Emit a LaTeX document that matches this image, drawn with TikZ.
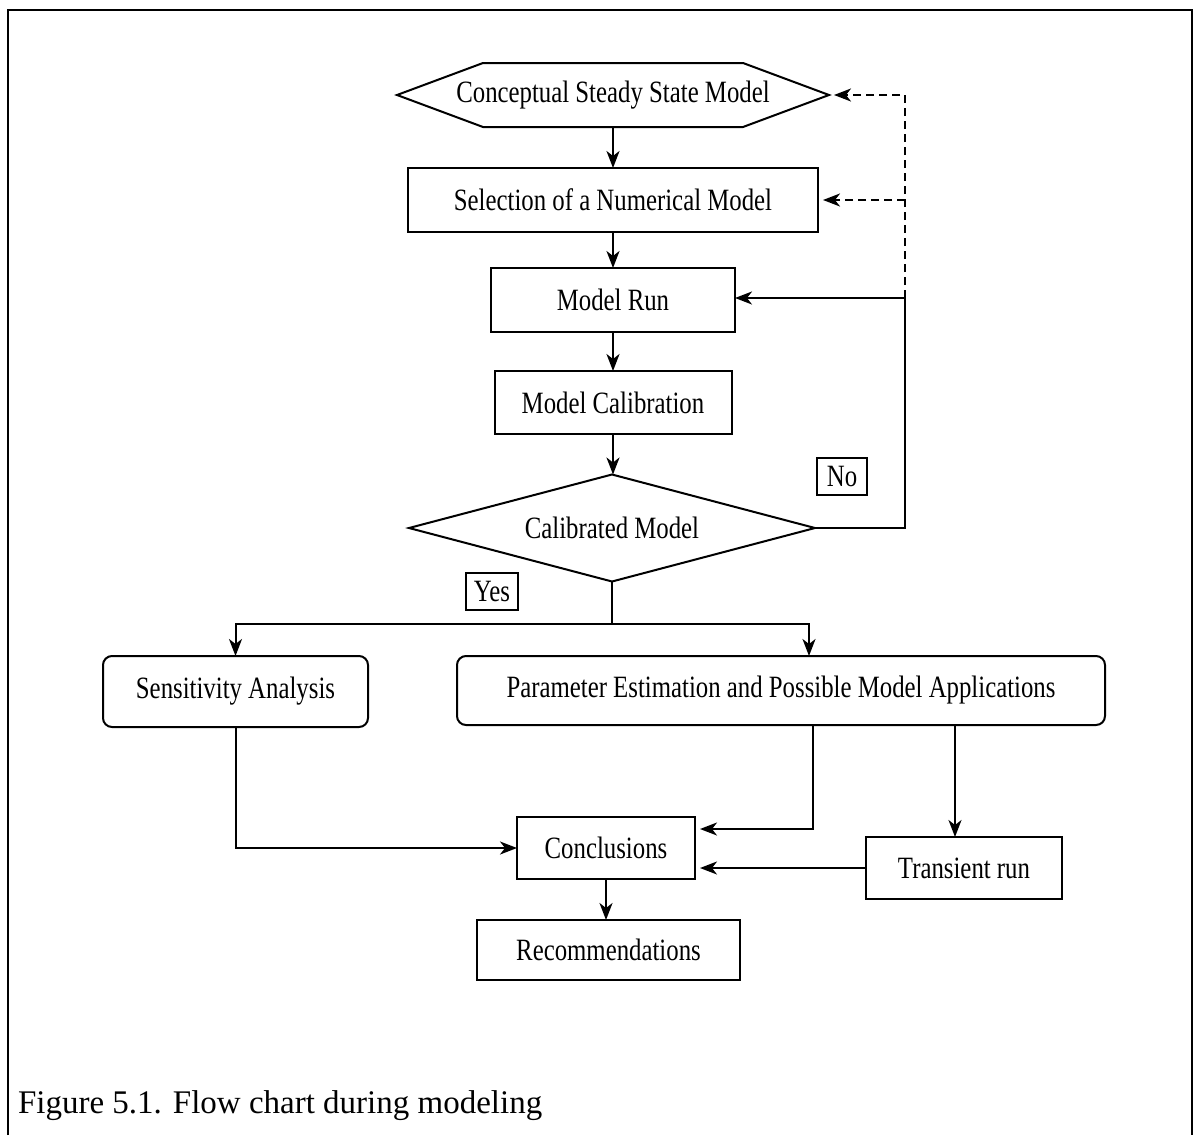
\documentclass[tikz,border=0pt]{standalone}
\usepackage{fontspec}
\setmainfont{Liberation Serif}
\newfontfamily\boxfont[FakeStretch=0.8]{Liberation Serif}
\usetikzlibrary{arrows.meta,shapes.geometric,calc}
\begin{document}
\begin{tikzpicture}[x=1pt,y=-1pt,
  every node/.style={font=\boxfont\fontsize{31}{36}\selectfont, inner sep=0pt, outer sep=0pt},
  box/.style={draw, line width=2pt},
  rbox/.style={draw, line width=2pt, rounded corners=9pt},
  tag/.style={draw, line width=1.6pt},
  plain/.style={line width=2pt},
  arr/.style={line width=2pt, -{Stealth[length=17pt,width=13pt,inset=5pt]}},
  dsh/.style={line width=2pt, dash pattern=on 8pt off 5pt, -{Stealth[length=17pt,width=13pt,inset=5pt]}}]
\useasboundingbox (0,0) rectangle (1193,1135);
\draw[line width=2pt] (8,1135) -- (8,10) -- (1192,10) -- (1192,1135);

% nodes
\node[minimum width=432pt, minimum height=64pt] (hex) at (613,95) {Conceptual Steady State Model};
\draw[line width=2pt] (hex.west) -- ($(hex.north west)+(86,0)$) -- ($(hex.north east)+(-86,0)$) -- (hex.east) -- ($(hex.south east)+(-86,0)$) -- ($(hex.south west)+(86,0)$) -- cycle;
\node[box, minimum width=410pt, minimum height=64pt] (sel) at (613,200) {Selection of a Numerical Model};
\node[box, minimum width=244pt, minimum height=64pt] (run) at (613,300) {Model Run};
\node[box, minimum width=237pt, minimum height=63pt] (cal) at (613,402.5) {Model Calibration};
\node[diamond, draw, line width=2pt, aspect=3.8, minimum width=406pt, minimum height=107pt] (diam) at (612,528) {Calibrated Model};
\node[tag, minimum width=50pt, minimum height=37pt] (no) at (842,476.5) {No};
\node[tag, minimum width=52pt, minimum height=37pt] (yes) at (492,591.5) {Yes};
\node[rbox, minimum width=265pt, minimum height=71pt] (sens) at (235.5,691.5) {Sensitivity Analysis};
\node[rbox, minimum width=648pt, minimum height=69pt] (param) at (781,690.5) {Parameter Estimation and Possible Model Applications};
\node[box, minimum width=178pt, minimum height=62pt] (concl) at (606,848) {Conclusions};
\node[box, minimum width=196pt, minimum height=62pt] (trans) at (964,868) {Transient run};
\node[box, minimum width=263pt, minimum height=60pt] (rec) at (608.5,950) {Recommendations};
\node[font=\rmfamily\fontsize{33}{38}\selectfont, anchor=base west] (cap) at (18,1113) {Figure 5.1. Flow chart during modeling};

% connectors
\draw[arr] (hex.south) -- (hex.south |- sel.north);
\draw[arr] (sel.south) -- (sel.south |- run.north);
\draw[arr] (run.south) -- (run.south |- cal.north);
\draw[arr] (cal.south) -- (cal.south |- diam.north);
\coordinate (fb) at (905,298);
\draw[arr] (diam.east) -| (fb) -- (fb -| run.east);
\draw[dsh, shorten >=5pt] (fb) |- (hex.east);
\draw[dsh, shorten >=5pt] (fb |- sel.east) -- (sel.east);
\coordinate (br) at ($(diam.south)+(0,42)$);
\draw[plain] (diam.south) -- (br);
\draw[arr] (br) -| (sens.north);
\draw[arr] (br) -| ($(param.north)+(28,0)$);
\draw[arr] (sens.south) |- (concl.west);
\draw[arr, shorten >=5pt] ($(param.south)+(32,0)$) |- ($(concl.east)+(0,-19)$);
\draw[arr] ($(param.south)+(174,0)$) coordinate (pt) -- (pt |- trans.north);
\draw[arr, shorten >=5pt] (trans.west) -- (trans.west -| concl.east);
\draw[arr] (concl.south) -- (concl.south |- rec.north);
\end{tikzpicture}
\end{document}
